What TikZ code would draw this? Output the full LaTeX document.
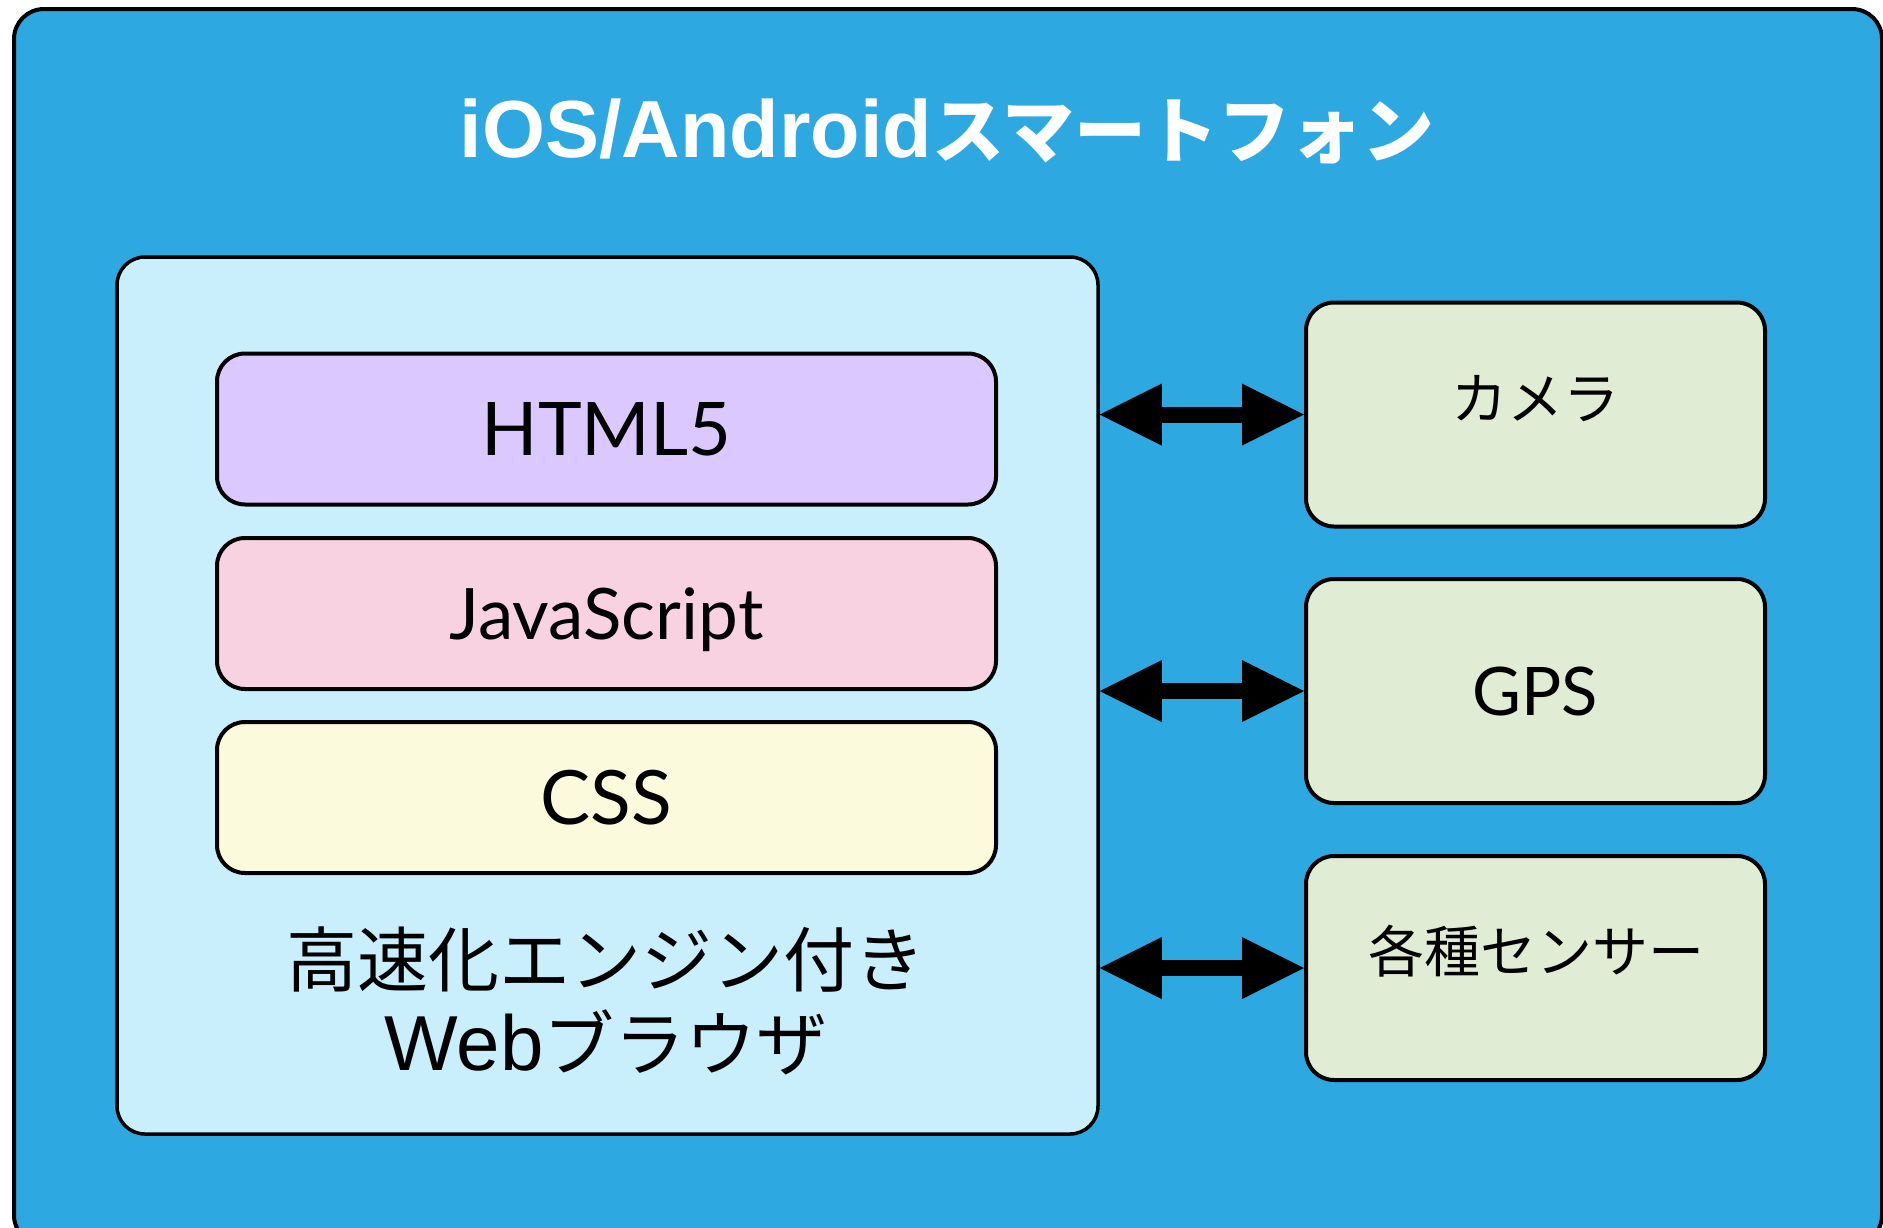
\documentclass[tikz,border=0pt]{standalone}
\usepackage{fontspec}
\setmainfont{Lato}
\newfontfamily\jpfont{Noto Sans CJK JP}
\newfontfamily\arialfont{Liberation Sans}
\usetikzlibrary{arrows.meta}
\definecolor{phoneblue}{RGB}{46,168,225}
\definecolor{browserblue}{RGB}{201,238,252}
\definecolor{htmlc}{RGB}{219,200,255}
\definecolor{jsc}{RGB}{249,210,225}
\definecolor{cssc}{RGB}{252,250,220}
\definecolor{devc}{RGB}{224,236,211}
\tikzset{
  box/.style={draw=black, line width=4pt, rounded corners=28pt, inner sep=0pt, rectangle},
  layerbox/.style={box, minimum width=779pt, minimum height=151pt},
  devbox/.style={box, fill=devc, minimum width=459pt, minimum height=224pt},
  dbl/.style={line width=16pt, {Triangle[length=62pt,width=62pt,line width=0pt]}-{Triangle[length=62pt,width=62pt,line width=0pt]}},
  jplbl/.style={inner sep=0pt, font=\jpfont\fontsize{56}{66}\selectfont},
}
\begin{document}
\begin{tikzpicture}[x=1pt,y=-1pt]
\useasboundingbox (0,0) rectangle (1883,1227);
\clip (0,0) rectangle (1883,1227);
% phone
\node[box, fill=phoneblue, rounded corners=30pt, minimum width=1868pt, minimum height=1236pt] (phone) at (948,627) {};
\node[anchor=base, text=white, inner sep=0pt] (title) at (947,157)
  {{\arialfont\bfseries\fontsize{81}{90}\selectfont iOS/Android}{\jpfont\bfseries\fontsize{72}{90}\selectfont スマートフォン}};
% browser
\node[box, line width=3.5pt, fill=browserblue, minimum width=981pt, minimum height=877pt] (browser) at (607.5,695.5) {};
\node[layerbox, fill=htmlc, font=\fontsize{74}{90}\selectfont, text height=53pt, text depth=0pt] (html) at (606.5,429) {HTML5};
\node[layerbox, fill=jsc, font=\fontsize{71}{80}\selectfont, text height=51pt, text depth=0pt] (js) at (606.5,613.5) {JavaScript};
\node[layerbox, fill=cssc, font=\fontsize{75}{80}\selectfont, text height=53.5pt, text depth=0pt] (css) at (606.5,797.5) {CSS};
\node[inner sep=0pt, align=center, font=\jpfont\fontsize{71}{84}\selectfont] (brlbl) at (606,1001)
  {高速化エンジン付き\\{\arialfont\fontsize{78}{84}\selectfont Web}ブラウザ};
% devices
\node[devbox] (cam) at (1535.5,414.5) {};
\node[devbox, font=\fontsize{67}{80}\selectfont, text height=48pt, text depth=0pt] (gps) at (1535.5,691) {GPS};
\node[devbox] (sensor) at (1535.5,968) {};
\node[jplbl] (camlbl) at (1535.5,398.5) {カメラ};
\node[jplbl] (senslbl) at (1536,951) {各種センサー};
% arrows
\draw[dbl] (browser.east |- cam.west) -- (cam.west);
\draw[dbl] (browser.east |- gps.west) -- (gps.west);
\draw[dbl] (browser.east |- sensor.west) -- (sensor.west);
\end{tikzpicture}
\end{document}
